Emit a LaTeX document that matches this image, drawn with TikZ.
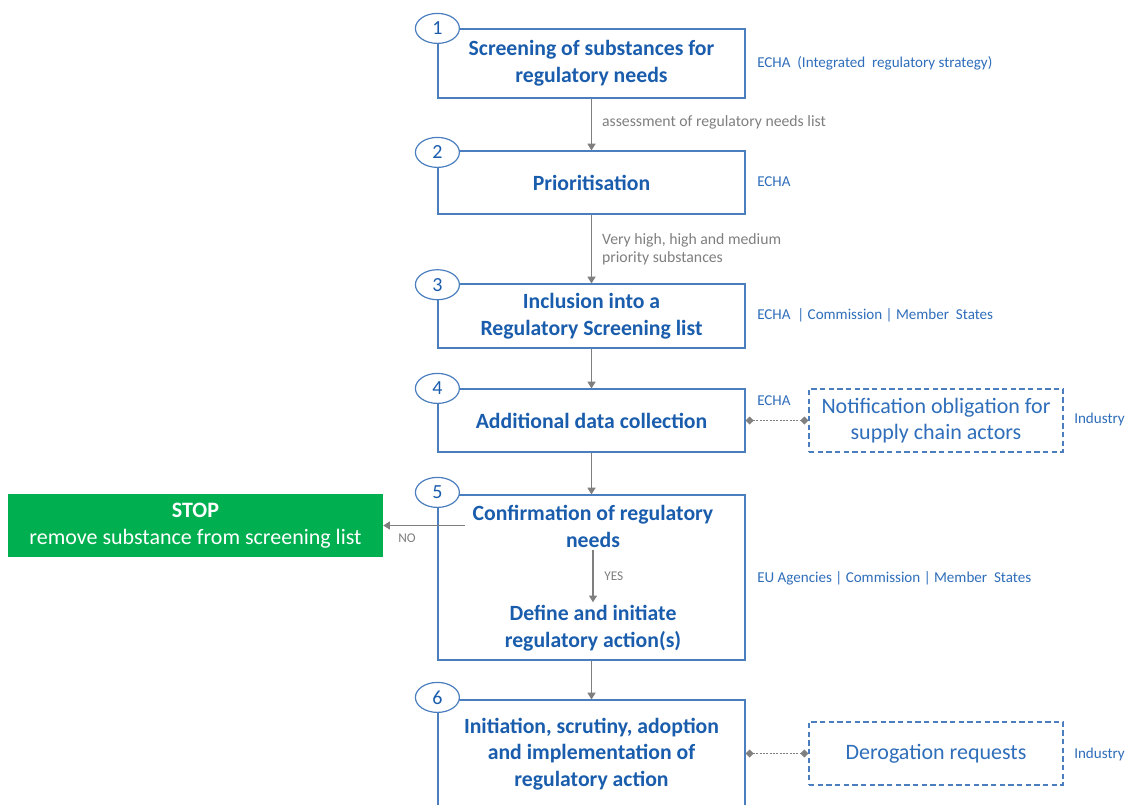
\documentclass[tikz,border=0pt]{standalone}
\usepackage{fontspec}
\setmainfont{Carlito}
\usetikzlibrary{shapes.geometric,arrows.meta}

\definecolor{boxline}{HTML}{4A7EBF}
\definecolor{titleblue}{HTML}{1A5DAD}
\definecolor{actorblue}{HTML}{2F6EBA}
\definecolor{flowgray}{HTML}{7F7F7F}
\definecolor{stopgreen}{HTML}{00B050}

\tikzset{
  stepbox/.style={draw=boxline, line width=0.9pt, fill=white, minimum width=307*0.75pt,
    inner sep=0pt, align=center, text=titleblue,
    font=\fontsize{16.3pt}{20pt}\selectfont\bfseries},
  steptext/.style={inner sep=0pt, align=center, text=titleblue,
    font=\fontsize{16.3pt}{20pt}\selectfont\bfseries},
  badge/.style={ellipse, draw=boxline, line width=0.9pt, fill=white,
    minimum width=44*0.75pt, minimum height=30*0.75pt, inner sep=0pt,
    text=titleblue, font=\fontsize{15pt}{16pt}\selectfont},
  flow/.style={draw=flowgray, line width=0.9pt, -{Triangle[length=5pt,width=6pt]}},
  flowlabel/.style={anchor=west, inner sep=0pt, align=left, text=flowgray,
    font=\fontsize{11.8pt}{13.5pt}\selectfont},
  actor/.style={anchor=west, inner sep=0pt, text=actorblue,
    font=\fontsize{11.3pt}{13pt}\selectfont},
  optbox/.style={draw=boxline, line width=0.9pt, dash pattern=on 4pt off 2.5pt,
    minimum width=254*0.75pt, minimum height=63*0.75pt, inner sep=0pt,
    align=center, text=actorblue, font=\fontsize{16.5pt}{20pt}\selectfont},
  link/.style={draw=flowgray, line width=0.7pt, dash pattern=on 1.5pt off 1pt,
    {Diamond[length=6pt,width=6pt,fill=flowgray]}-{Diamond[length=6pt,width=6pt,fill=flowgray]}},
}

\begin{document}
\begin{tikzpicture}[x=0.75pt, y=-0.75pt]
  % canvas
  \fill[white] (0,0) rectangle (1131,805);
  \useasboundingbox (0,0) rectangle (1131,805);
  \clip (0,0) rectangle (1131,805);

  % main process steps
  \node[stepbox, minimum height=69*0.75pt] (b1) at (591.5,63.5)
    {Screening of substances for\\regulatory needs};
  \node[stepbox, minimum height=63*0.75pt] (b2) at (591.5,182.5) {Prioritisation};
  \node[stepbox, minimum height=64*0.75pt] (b3) at (591.5,316)
    {Inclusion into a\\Regulatory Screening list};
  \node[stepbox, minimum height=63*0.75pt] (b4) at (591.5,420.5) {Additional data collection};
  \node[stepbox, minimum height=165*0.75pt] (b5) at (591.5,577.5) {};
  \node[stepbox, minimum height=110*0.75pt] (b6) at (591.5,755) {};

  \node[steptext] (conf) at (593,526.5) {Confirmation of regulatory\\needs};
  \node[steptext] (def) at (593,628) {Define and initiate\\regulatory action(s)};
  \node[steptext] (impl) at (591.5,754)
    {Initiation, scrutiny, adoption\\and implementation of\\regulatory action};

  % step numbers
  \node[badge] (n1) at (b1.north west) {1};
  \node[badge] (n2) at ([yshift=-1.5pt]b2.north west) {2};
  \node[badge] (n3) at ([yshift=-1pt]b3.north west) {3};
  \node[badge] (n4) at (b4.north west) {4};
  \node[badge] (n5) at ([yshift=1.5pt]b5.north west) {5};
  \node[badge] (n6) at ([yshift=1.5pt]b6.north west) {6};

  % flow between steps
  \draw[flow] (b1.south) -- node[flowlabel, pos=0.45, xshift=7.5pt]
    {assessment of regulatory needs list} (b2.north);
  \draw[flow] (b2.south) -- node[flowlabel, pos=0.5, xshift=7.5pt]
    {Very high, high and medium\\priority substances} (b3.north);
  \draw[flow] (b3.south) -- (b4.north);
  \draw[flow] (b4.south) -- (b5.north);
  \draw[flow] (b5.south) -- (b6.north);
  \draw[flow, shorten <=2pt, shorten >=2pt] (conf.south) --
    node[flowlabel, xshift=8pt, font=\fontsize{10pt}{11pt}\selectfont] {YES} (def.north);

  % stop branch
  \node[fill=stopgreen, minimum width=375*0.75pt, minimum height=63*0.75pt, inner sep=0pt,
    align=center, text=white, font=\fontsize{16.5pt}{20.5pt}\selectfont] (stop) at (195.5,525.5)
    {\textbf{STOP}\\remove substance from screening list};
  \coordinate (nostart) at (465,525.5);
  \draw[flow] (nostart) -- (stop.east);
  \node[flowlabel, font=\fontsize{10pt}{11pt}\selectfont] (nolab) at (398,538) {NO};

  % responsible actors
  \node[actor] (a1) at (757,63) {ECHA~ (Integrated~ regulatory strategy)};
  \node[actor] (a2) at (757,182) {ECHA};
  \node[actor] (a3) at (757,315) {ECHA~ | Commission | Member~ States};
  \node[actor] (a4) at (757,401) {ECHA};
  \node[actor] (a5) at (757,578) {EU Agencies | Commission | Member~ States};

  % industry inputs
  \node[optbox] (notif) at (936,420.5) {Notification obligation for\\supply chain actors};
  \node[optbox] (derog) at (936,753.5) {Derogation requests};
  \node[actor] (i1) at (1074,419) {Industry};
  \node[actor] (i2) at (1074,754) {Industry};
  \draw[link] (b4.east) -- (notif.west);
  \draw[link] (b6.east |- derog.west) -- (derog.west);
\end{tikzpicture}
\end{document}
